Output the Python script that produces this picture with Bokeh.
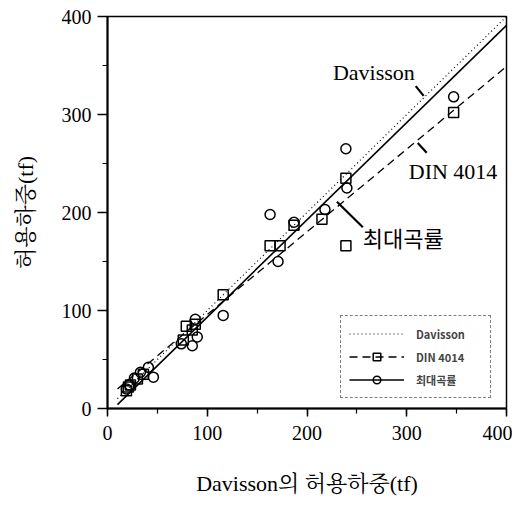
from bokeh.plotting import figure
from bokeh.models import Range1d, SingleIntervalTicker, Legend, LegendItem, Label
from bokeh.embed import file_html
from bokeh.resources import INLINE

# ---- data ----
# DIN 4014 allowable load vs Davisson allowable load (squares)
din_x = [19, 21, 23, 30, 36, 76, 79, 85, 88, 116, 163, 173, 187, 215, 239, 239, 347]
din_y = [18, 22, 24, 30, 35, 70, 84, 80, 86, 116, 166, 166, 187, 193, 235, 166, 302]
# maximum-curvature allowable load vs Davisson allowable load (circles)
mc_x = [19, 22, 27, 33, 41, 46, 74, 85, 88, 90, 116, 163, 171, 187, 218, 239, 240, 347]
mc_y = [20, 24, 31, 37, 42, 32, 66, 64, 91, 73, 95, 198, 150, 190, 203, 265, 225, 318]
# fitted lines (end points)
dav_line_x = [10, 400]
dav_line_y = [10, 400]
din_line_x = [10, 400]
din_line_y = [20, 349]
mc_line_x = [10, 400]
mc_line_y = [4, 391]

SERIF = "Liberation Serif, Noto Serif CJK KR, Noto Sans CJK KR"

p = figure(width=512, height=498, output_backend="svg", toolbar_location=None,
           x_range=Range1d(0, 400), y_range=Range1d(0, 400),
           min_border_left=107, min_border_right=6, min_border_top=16, min_border_bottom=88)
p.grid.visible = False
p.outline_line_color = "black"
p.outline_line_width = 1.5
p.background_fill_color = "white"

for ax in (p.xaxis[0], p.yaxis[0]):
    ax.ticker = SingleIntervalTicker(interval=100, num_minor_ticks=2)
    ax.axis_line_width = 2
    ax.major_tick_line_width = 1.5
    ax.minor_tick_line_width = 1.2
    ax.major_tick_in = 0
    ax.minor_tick_in = 0
    ax.minor_tick_out = 5
    ax.major_label_text_font = "Liberation Serif"
    ax.major_label_text_font_size = "20px"
    ax.major_label_text_color = "black"
    ax.axis_label_text_font = SERIF
    ax.axis_label_text_font_style = "normal"
    ax.axis_label_text_font_size = "22px"
    ax.axis_label_text_color = "black"

p.xaxis.major_tick_out = 8
p.xaxis.major_label_standoff = 9
p.xaxis.axis_label = "Davisson의 허용하중(tf)"
p.xaxis.axis_label_standoff = 28

p.yaxis.major_tick_out = 10
p.yaxis.major_label_standoff = 6
p.yaxis.axis_label = "허용하중(tf)"
p.yaxis.axis_label_standoff = 21

# lines
r_dav = p.line(dav_line_x, dav_line_y, line_color="black", line_width=1.2, line_dash="1 3")
r_din = p.line(din_line_x, din_line_y, line_color="black", line_width=1.3, line_dash="8 5")
r_mc = p.line(mc_line_x, mc_line_y, line_color="black", line_width=1.6)

# points
r_sq = p.scatter(din_x, din_y, marker="square", size=10, fill_color=None,
                 line_color="black", line_width=1.5)
r_ci = p.scatter(mc_x, mc_y, marker="circle", size=10, fill_color=None,
                 line_color="black", line_width=1.5)

# annotations
p.add_layout(Label(x=226, y=343, text="Davisson", text_font="Liberation Serif",
                   text_font_size="22px", text_baseline="middle", text_align="left",
                   text_color="black"))
p.add_layout(Label(x=302, y=242, text="DIN 4014", text_font="Liberation Serif",
                   text_font_size="22px", text_baseline="middle", text_align="left",
                   text_color="black"))
p.add_layout(Label(x=256, y=175, text="최대곡률", text_font="Noto Sans CJK KR",
                   text_font_size="22px", text_baseline="middle", text_align="left",
                   text_color="black"))
p.segment(x0=[309, 320, 256], y0=[329, 261, 185], x1=[317, 311, 230], y1=[319, 271, 211],
          line_color="black", line_width=2.2)

legend = Legend(items=[
    LegendItem(label="Davisson", renderers=[r_dav]),
    LegendItem(label="DIN 4014", renderers=[r_din, r_sq]),
    LegendItem(label="최대곡률", renderers=[r_mc, r_ci]),
], location=(233, 10))
legend.border_line_color = "black"
legend.border_line_dash = "4 3"
legend.border_line_width = 1
legend.background_fill_color = "white"
legend.label_text_font = "Noto Sans CJK KR"
legend.label_text_font_style = "bold"
legend.label_text_font_size = "11px"
legend.glyph_width = 55
legend.glyph_height = 19
legend.label_standoff = 12
legend.label_width = 66
legend.padding = 8
legend.spacing = 4
legend.margin = 0
p.add_layout(legend)

open("out.html", "w").write(file_html(p, INLINE))
